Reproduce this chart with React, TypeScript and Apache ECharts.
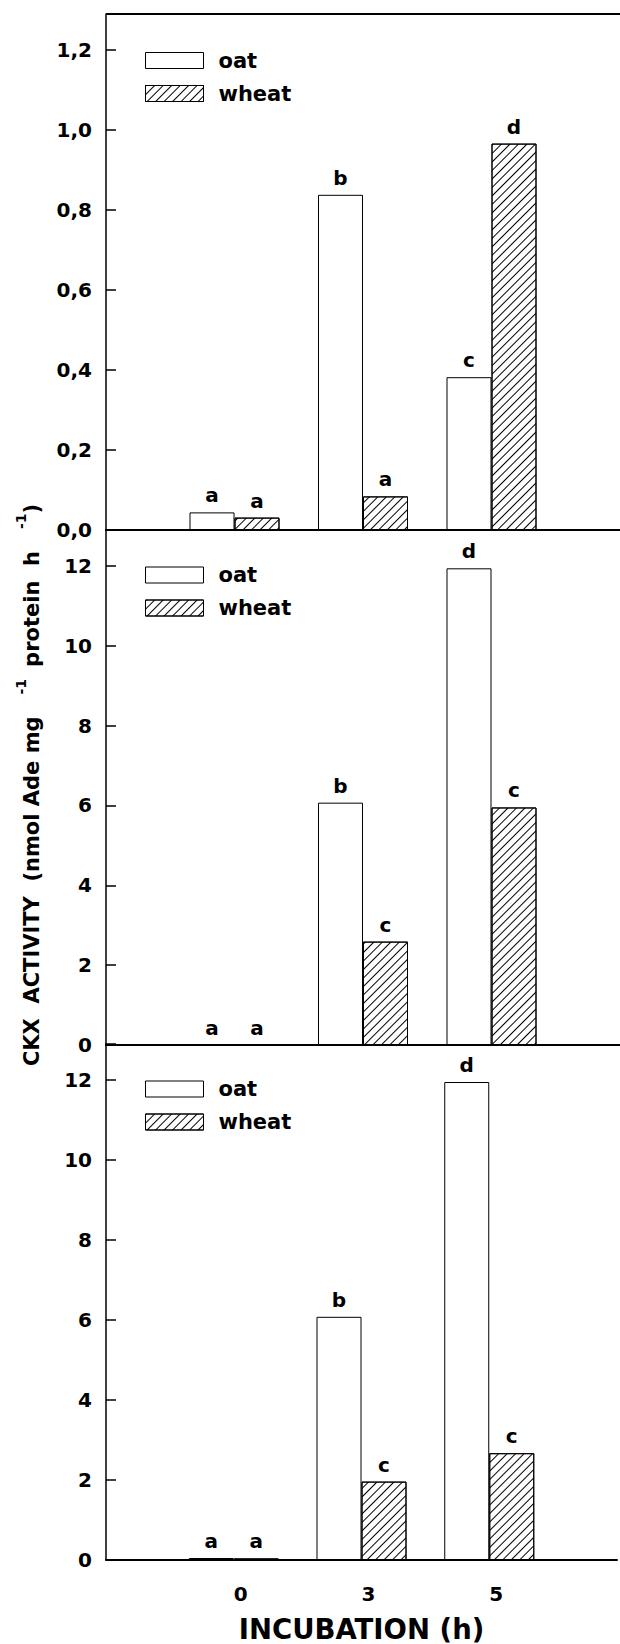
import React, { useEffect, useRef } from 'react';
import * as echarts from 'echarts';

// ---- data ----
const hours = ['0', '3', '5'];
const oatA = [0.044, 0.838, 0.382];
const wheatA = [0.031, 0.084, 0.966];
const oatB = [0, 6.07, 11.94];
const wheatB = [0, 2.59, 5.95];
const oatC = [0.05, 6.08, 11.95];
const wheatC = [0.04, 1.96, 2.67];
const oatLettersA = ['a', 'b', 'c'];
const wheatLettersA = ['a', 'a', 'd'];
const oatLettersB = ['a', 'b', 'd'];
const wheatLettersB = ['a', 'c', 'c'];
const oatLettersC = ['a', 'b', 'd'];
const wheatLettersC = ['a', 'c', 'c'];
const yTicksA = ['0,0', '0,2', '0,4', '0,6', '0,8', '1,0', '1,2'];
const yTicksBC = ['0', '2', '4', '6', '8', '10', '12'];
const seriesNames = ['oat', 'wheat'];
const xTitle = 'INCUBATION (h)';
const yTitleA = 'CKX  ACTIVITY  (nmol Ade mg';
const yTitleB = 'protein  h';
const yTitleSup = '-1';

const FONT = 'DejaVu Sans';

const HATCH = {
  symbol: 'rect',
  symbolSize: 1,
  dashArrayX: [1, 0],
  dashArrayY: [1, 5],
  rotation: -Math.PI / 4,
  color: '#000',
  backgroundColor: '#fff',
};

function tickFormatter(ticks: string[], step: number) {
  return (v: number) => {
    const i = Math.round(v / step);
    if (Math.abs(v - i * step) < 1e-6 && i >= 0 && i < ticks.length) return ticks[i];
    return '';
  };
}

function bars(name: string, vals: number[], letters: string[], gi: number, hatch: boolean) {
  const itemStyle: any = { color: '#fff', borderColor: '#000', borderWidth: 1 };
  if (hatch) itemStyle.decal = HATCH;
  return {
    type: 'bar',
    name,
    xAxisIndex: gi,
    yAxisIndex: gi,
    data: [null, ...vals, null],
    barWidth: 45,
    barGap: '0%',
    silent: true,
    itemStyle,
    emphasis: { disabled: true },
    label: {
      show: true,
      position: 'top',
      distance: 7,
      formatter: (p: any) => letters[p.dataIndex - 1] ?? '',
      fontFamily: FONT,
      fontWeight: 'bold',
      fontSize: 20,
      color: '#000',
    },
  };
}

export default function App() {
  const ref = useRef<HTMLDivElement>(null);
  useEffect(() => {
    if (!ref.current) return;
    const chart = echarts.init(ref.current, null, { renderer: 'svg', width: 620, height: 1644 });
    const grids = [
      { left: 106, right: 0, top: 14, height: 516 },
      { left: 106, right: 0, top: 530, height: 515 },
      { left: 106, right: 0, top: 1044, height: 516 },
    ];
    const maxes = [1.29, 12.9, 12.9];
    const steps = [0.2, 2, 2];
    const tickSets = [yTicksA, yTicksBC, yTicksBC];
    const cats = ['', ...hours, ''];
    const option: any = {
      animation: false,
      backgroundColor: '#fff',
      grid: grids,
      legend: [50, 564.5, 1078.5].map((top) => ({
        top,
        left: 145,
        orient: 'vertical',
        itemWidth: 58,
        itemHeight: 16,
        itemGap: 12,
        padding: 0,
        selectedMode: false,
        icon: 'rect',
        data: seriesNames,
        itemStyle: { borderColor: '#000', borderWidth: 1 },
        textStyle: {
          fontFamily: FONT,
          fontWeight: 'bold',
          fontSize: 21,
          lineHeight: 21,
          color: '#000',
          padding: [0, 0, 0, 10],
        },
      })),
      xAxis: [0, 1, 2].map((i) => ({
        type: 'category',
        gridIndex: i,
        data: cats,
        boundaryGap: false,
        axisLine: { show: true, lineStyle: { color: '#000', width: 2 } },
        axisTick: { show: false },
        splitLine: { show: false },
        axisLabel: {
          show: i === 2,
          margin: 24,
          padding: [0, 0, 0, 14],
          fontFamily: FONT,
          fontWeight: 'bold',
          fontSize: 20,
          color: '#000',
        },
        name: i === 2 ? xTitle : '',
        nameLocation: 'middle',
        nameGap: 55,
        nameTextStyle: { fontFamily: FONT, fontWeight: 'bold', fontSize: 27.5, color: '#000' },
      })),
      yAxis: [0, 1, 2].map((i) => ({
        type: 'value',
        gridIndex: i,
        min: 0,
        max: maxes[i],
        interval: steps[i],
        axisLine: { show: true, lineStyle: { color: '#000', width: 1.5 } },
        axisTick: { show: true, inside: true, length: 10, lineStyle: { color: '#000', width: 1.5 } },
        splitLine: { show: false },
        axisLabel: {
          margin: 14,
          formatter: tickFormatter(tickSets[i], steps[i]),
          fontFamily: FONT,
          fontWeight: 'bold',
          fontSize: 20,
          color: '#000',
        },
      })),
      series: [
        bars(seriesNames[0], oatA, oatLettersA, 0, false),
        bars(seriesNames[1], wheatA, wheatLettersA, 0, true),
        bars(seriesNames[0], oatB, oatLettersB, 1, false),
        bars(seriesNames[1], wheatB, wheatLettersB, 1, true),
        bars(seriesNames[0], oatC, oatLettersC, 2, false),
        bars(seriesNames[1], wheatC, wheatLettersC, 2, true),
      ],
      graphic: [
        {
          type: 'line',
          silent: true,
          shape: { x1: 106, y1: 14, x2: 620, y2: 14 },
          style: { stroke: '#000', lineWidth: 2 },
        },
        {
          type: 'text',
          silent: true,
          x: 32,
          y: 785,
          rotation: Math.PI / 2,
          style: {
            text: `{m|${yTitleA}}{s1|${yTitleSup}}{m|${yTitleB}}{s2|${yTitleSup}}{m|)}`,
            align: 'center',
            verticalAlign: 'middle',
            rich: {
              m: { fontFamily: FONT, fontWeight: 'bold', fontSize: 21, lineHeight: 36, verticalAlign: 'middle', fill: '#000' },
              s1: { fontFamily: FONT, fontWeight: 'bold', fontSize: 14, lineHeight: 14, verticalAlign: 'top', fill: '#000', padding: [0, 12, 0, 22] },
              s2: { fontFamily: FONT, fontWeight: 'bold', fontSize: 14, lineHeight: 14, verticalAlign: 'top', fill: '#000', padding: [0, 0, 0, 22] },
            },
          },
        },
      ],
    };
    chart.setOption(option);
    return () => chart.dispose();
  }, []);
  return <div ref={ref} style={{ position: 'fixed', left: 0, top: 0, width: 620, height: 1644, background: '#fff' }} />;
}
